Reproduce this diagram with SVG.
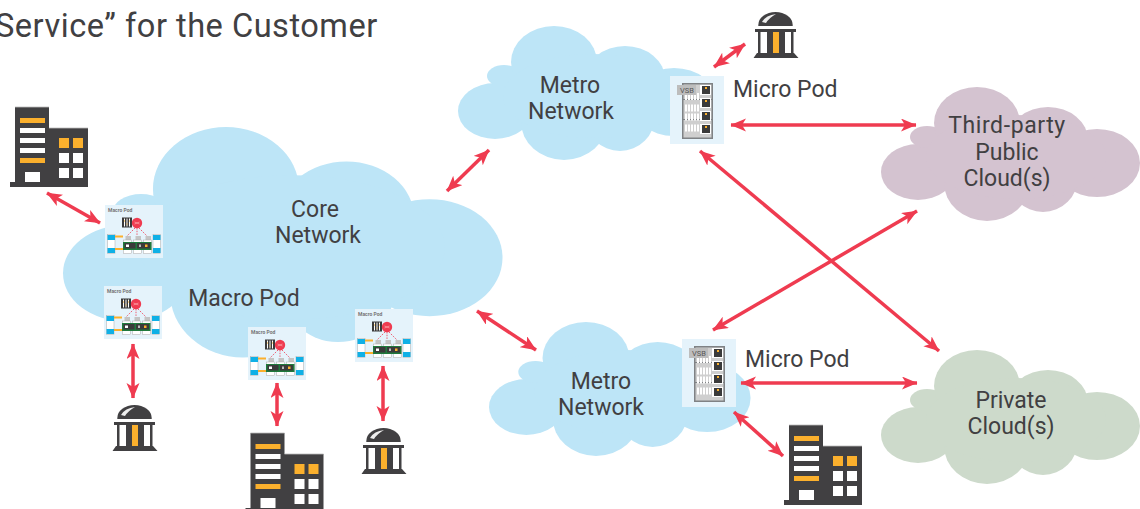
<svg xmlns="http://www.w3.org/2000/svg" width="1140" height="509" viewBox="0 0 1140 509">
<style>
text{font-family:"Roboto","Noto Sans","Liberation Sans",sans-serif;fill:#414042;font-size:23px}
.c{text-anchor:middle}
.blue{fill:#bde5f7}.pur{fill:#d4c3d0}.grn{fill:#cddacb}
.conn line{stroke:#ef3b50;stroke-width:3.500;marker-start:url(#a);marker-end:url(#a)}
.d{fill:#414042}.o{fill:#fbb02d}.w{fill:#fff}
.mp{font-size:5px;font-weight:700;fill:#777}
</style>
<defs>
<marker id="a" markerWidth="16" markerHeight="14" refX="15" refY="6.500" orient="auto-start-reverse" markerUnits="userSpaceOnUse" viewBox="0 0 16 14"><path d="M0 0L15.500 6.500L0 13L4 6.500Z" fill="#ef3b50"/></marker>
<g id="cloud">
<ellipse cx="37" cy="85" rx="37" ry="28"/><ellipse cx="46" cy="50" rx="17" ry="11"/><ellipse cx="96" cy="36" rx="43" ry="36"/><ellipse cx="167" cy="53" rx="40" ry="33"/><ellipse cx="216" cy="76" rx="43" ry="34"/><ellipse cx="106" cy="96" rx="43" ry="38"/><ellipse cx="162" cy="90" rx="35" ry="35"/><ellipse cx="135" cy="70" rx="90" ry="42"/>
</g>
<symbol id="bld" width="78" height="81" viewBox="0 0 78 81" overflow="visible">
<path class="d" d="M5 0H39V21H78V80H0V75H5Z"/>
<path d="M5 0H39M39 21H78" stroke="#bbb" stroke-width=".8" fill="none"/>
<path class="o" d="M10 11H35V16H10ZM10 51H35V56H10ZM49 31H59V41H49ZM63 31H73V41H63Z"/>
<path class="w" d="M10 21H35V26H10ZM10 31H35V36H10ZM10 41H35V46H10ZM15 65H30V75H15ZM49 46H59V56H49ZM63 46H73V56H63ZM49 61H59V71H49ZM63 61H73V71H63Z"/>
</symbol>
<symbol id="mus" width="46" height="46" viewBox="0 0 46 46" overflow="visible">
<path class="d" d="M5.300 13A17.200 13 0 0 1 39.700 13V14H5.300Z"/>
<path d="M9 10Q13 3 23 2Q16 6 13 11Z" fill="#eee"/>
<path class="d" d="M2 17H43V20H2ZM5 20H7.500V41H5ZM14 20H32V41H14ZM38 20H40.500V41H38ZM4 41H41L45.500 46H.5Z"/>
<rect class="o" x="20" y="20" width="6" height="21"/>
</symbol>
<symbol id="macro" width="58" height="54" viewBox="0 0 58 54" overflow="visible">
<rect width="58" height="53" fill="#e5f3fb"/>
<text class="mp" x="3" y="7">Macro Pod</text>
<rect x="17" y="12.500" width="10" height="10" fill="#3a3a3a"/>
<path d="M19.500 13.500V21.500M22 13.500V21.500M24.500 13.500V21.500" stroke="#fff"/>
<path d="M19 16H20M21.500 19H22.500M24 16H25" stroke="#fbb02d"/>
<circle cx="32" cy="18" r="5.200" fill="#ef3b50"/>
<path d="M29.500 17L34.500 19M34.500 17L29.500 19" stroke="#fbb" stroke-width=".6"/>
<path d="M30 23L22 31M32 23V31M34 23L42 31" stroke="#ef3b50" stroke-dasharray="1.500 1.200" fill="none" stroke-opacity=".8"/>
<rect x="2.500" y="29.500" width="7.500" height="19" fill="#fff" stroke="#aaa" stroke-width=".5"/>
<rect x="2.500" y="30" width="7.500" height="5" fill="#0fb0e6"/>
<rect x="2.500" y="43" width="7.500" height="5" fill="#0fb0e6"/>
<rect x="48" y="29.500" width="7.500" height="19" fill="#fff" stroke="#aaa" stroke-width=".5"/>
<rect x="48" y="30" width="7.500" height="5" fill="#0fb0e6"/>
<rect x="48" y="43" width="7.500" height="5" fill="#0fb0e6"/>
<path d="M10 31.500H18M10 44H18" stroke="#fbb02d" stroke-width="2"/>
<g fill="#c4c4c4"><rect x="20.500" y="31" width="5.500" height="4"/><rect x="30.500" y="31" width="5.500" height="4"/><rect x="40.500" y="31" width="5.500" height="4"/></g>
<g fill="#fff" stroke="#aaa" stroke-width=".5"><rect x="18.500" y="35" width="8" height="13.500"/><rect x="28.500" y="35" width="8" height="13.500"/><rect x="38.500" y="35" width="8" height="13.500"/></g>
<rect x="18" y="37" width="28.500" height="8" fill="#1f7a3c"/>
<rect x="19.500" y="38" width="11" height="5.500" fill="#3a3a3a"/><rect x="32" y="38" width="13" height="5.500" fill="#3a3a3a"/>
<rect x="21" y="39.500" width="3" height="2.500" fill="#fff"/><rect x="40" y="39.500" width="2.500" height="2.500" fill="#fbb02d"/><rect x="34" y="39.500" width="2" height="2.500" fill="#bbb"/>
</symbol>
<symbol id="micro" width="54" height="68" viewBox="0 0 54 68" overflow="visible">
<rect width="54" height="68" fill="#e5f3fb"/>
<rect x="12" y="7" width="31" height="56" fill="#7f8285"/>
<rect x="13.500" y="8.500" width="28" height="53" fill="#cfcfcf"/>
<path d="M13 23.500H42M13 43.500H42" stroke="#7f8285" stroke-width="1"/>
<path d="M15 20.500H30M15 32H30M15 41H30M15 52H30" stroke="#fff" stroke-width="7" stroke-dasharray="2 1" fill="none"/>
<rect x="7" y="9" width="19" height="10" fill="#bdbdbd"/>
<text x="10" y="17" style="font-size:7.500px;fill:#555">VSB</text>
<g fill="#fff"><rect x="30" y="9" width="11" height="10"/><rect x="30" y="22" width="11" height="10"/><rect x="30" y="35" width="11" height="10"/><rect x="30" y="48" width="11" height="10"/></g>
<g fill="#3a3a3a"><rect x="32" y="10" width="8" height="8"/><rect x="32" y="23" width="8" height="8"/><rect x="32" y="36" width="8" height="8"/><rect x="32" y="49" width="8" height="8"/></g>
<g fill="#fbb02d"><rect x="35" y="11" width="2" height="2"/><rect x="35" y="24" width="2" height="2"/><rect x="35" y="37" width="2" height="2"/><rect x="35" y="50" width="2" height="2"/></g>
</symbol>
</defs>
<rect width="1140" height="509" fill="#fff"/>
<text x="-5" y="37" style="font-size:32.600px;letter-spacing:.5px">Service” for the Customer</text>

<g id="core-network">
<use href="#cloud" class="blue" transform="translate(63 127) scale(1.697 1.72)"/>
<text class="c" x="315" y="217">Core</text><text class="c" x="318" y="243">Network</text>
<text class="c" x="244" y="306">Macro Pod</text>
</g>
<g id="metro-top">
<use href="#cloud" class="blue" transform="translate(458 26)"/>
<text class="c" x="570" y="93">Metro</text><text class="c" x="571" y="119">Network</text>
</g>
<g id="metro-bottom">
<use href="#cloud" class="blue" transform="translate(489 322) scale(1.01 1)"/>
<text class="c" x="601" y="389">Metro</text><text class="c" x="601" y="415">Network</text>
</g>
<g id="third-party-cloud">
<use href="#cloud" class="pur" transform="translate(881 87)"/>
<text class="c" x="1007" y="133" style="letter-spacing:.6px">Third-party</text><text class="c" x="1007" y="160">Public</text><text class="c" x="1007" y="186">Cloud(s)</text>
</g>
<g id="private-cloud">
<use href="#cloud" class="grn" transform="translate(881 350)"/>
<text class="c" x="1011" y="408">Private</text><text class="c" x="1011" y="434">Cloud(s)</text>
</g>

<g id="connectors" class="conn">
<line x1="47" y1="193" x2="100" y2="223"/>
<line x1="133" y1="344" x2="133" y2="398"/>
<line x1="277" y1="383" x2="277" y2="426"/>
<line x1="383" y1="366" x2="383" y2="421"/>
<line x1="447" y1="191" x2="489" y2="150"/>
<line x1="477" y1="311" x2="536" y2="350"/>
<line x1="714" y1="67" x2="745" y2="44"/>
<line x1="731" y1="125" x2="916" y2="125"/>
<line x1="700" y1="151" x2="939" y2="351"/>
<line x1="713" y1="330" x2="917" y2="211"/>
<line x1="741" y1="383" x2="917" y2="383"/>
<line x1="734" y1="412" x2="783" y2="456"/>
</g>

<g id="building-1"><use href="#bld" x="10" y="107"/></g>
<g id="building-2"><use href="#bld" x="245.500" y="433"/></g>
<g id="building-3"><use href="#bld" x="784" y="425"/></g>
<g id="museum-1"><use href="#mus" x="112" y="405"/></g>
<g id="museum-2"><use href="#mus" x="361" y="428"/></g>
<g id="museum-3"><use href="#mus" x="753" y="12"/></g>
<g id="macro-1"><use href="#macro" x="105" y="205"/></g>
<g id="macro-2"><use href="#macro" x="104" y="286"/></g>
<g id="macro-3"><use href="#macro" x="248" y="327"/></g>
<g id="macro-4"><use href="#macro" x="355" y="309"/></g>
<g id="micro-1"><use href="#micro" x="670" y="76"/><text x="733" y="97">Micro Pod</text></g>
<g id="micro-2"><use href="#micro" x="682" y="339"/><text x="745" y="367">Micro Pod</text></g>
</svg>
